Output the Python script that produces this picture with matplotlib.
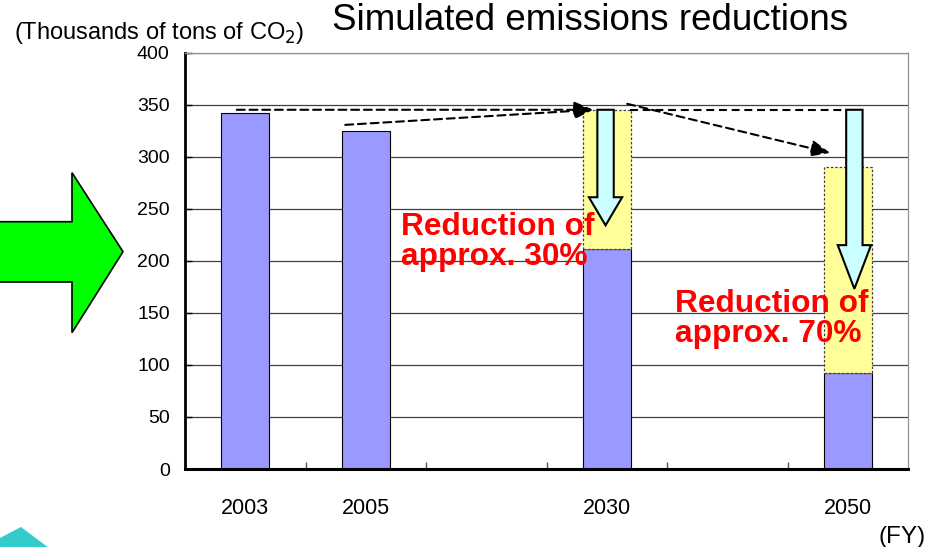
import numpy as np
import matplotlib
matplotlib.use("Agg")
import matplotlib.pyplot as plt
from matplotlib.patches import Polygon

plt.rcParams['font.family'] = ['Liberation Sans', 'DejaVu Sans']

# ---- data ----
categories = ['2003', '2005', '', '2030', '', '2050']
emissions = [342, 325, np.nan, 211, np.nan, 92]          # purple bars
before_reduction = [np.nan, np.nan, np.nan, 345, np.nan, 290]  # yellow bar tops
y_ticks = [0, 50, 100, 150, 200, 250, 300, 350, 400]
reference_level = 345
arrow_tips = {3: 234, 5: 173}          # cyan arrow tips (data units)
arrow_head_bases = {3: 261, 5: 215}
reduction_labels = {3: ('Reduction of', 'approx. 30%'),
                    5: ('Reduction of', 'approx. 70%')}

W, H = 940, 547
fig = plt.figure(figsize=(W / 100, H / 100), dpi=100)
ax = fig.add_axes([185 / W, 1 - 469 / H, (908 - 185) / W, (469 - 52.5) / H])

x = np.arange(len(categories))
em = np.array(emissions, dtype=float)
br = np.array(before_reduction, dtype=float)

ax.bar(x, em, width=0.4, color='#9999FF', edgecolor='black', linewidth=0.8, zorder=2)
ax.bar(x, br - em, bottom=em, width=0.4, color='#FFFF99', edgecolor='#404040',
       linewidth=0.9, linestyle=(0, (2, 1.5)), zorder=2)

ax.set_xlim(-0.5, len(categories) - 0.5)
ax.set_ylim(0, 400)
ax.set_yticks(y_ticks)
ax.set_xticks(x)
ax.set_xticklabels(categories, fontsize=15.5)
ax.set_xticks(np.arange(0.5, len(categories) - 0.5, 1.0), minor=True)
ax.tick_params(axis='x', which='major', length=0, pad=21)
ax.tick_params(axis='x', which='minor', direction='in', length=5, width=1, color='#555555')
ax.tick_params(axis='y', direction='in', length=5, width=1, labelsize=14, pad=11)

ax.set_axisbelow(True)
ax.yaxis.grid(True, color='#404040', linewidth=0.9)
for s in ['top', 'right']:
    ax.spines[s].set_color('#909090')
    ax.spines[s].set_linewidth(0.9)
ax.spines['left'].set_linewidth(2)
ax.spines['bottom'].set_linewidth(2.2)

# ---- dashed guide lines with arrowheads ----
dash = (0, (3.8, 2.3))
aprops = dict(arrowstyle='-|>,head_length=1.15,head_width=0.5', linestyle=dash,
              lw=1.5, color='black', shrinkA=0, shrinkB=0, mutation_scale=10)
tip30 = (2.886, reference_level)
ax.annotate('', xy=tip30, xytext=(-0.07, reference_level), arrowprops=aprops, zorder=4)
ax.annotate('', xy=tip30, xytext=(0.83, 330.5), arrowprops=aprops, zorder=4)
ax.plot([3.19, 4.99], [reference_level, reference_level], color='black', lw=1.5,
        linestyle=dash, zorder=4)
ax.annotate('', xy=(4.853, 303.6), xytext=(3.17, 350.7), arrowprops=aprops, zorder=4)

# ---- cyan downward arrows ----
arrow_cx = {3: 2.99, 5: 5.055}
for i, tip in arrow_tips.items():
    cx = arrow_cx[i]
    sh, hh = 0.068, 0.138
    base = arrow_head_bases[i]
    pts = [(cx - sh, reference_level), (cx + sh, reference_level), (cx + sh, base),
           (cx + hh, base), (cx, tip), (cx - hh, base), (cx - sh, base)]
    ax.add_patch(Polygon(pts, closed=True, facecolor='#CCFFFF', edgecolor='black',
                         linewidth=1.5, joinstyle='miter', zorder=5))

# ---- red labels ----
label_pos = {3: (1.29, 224.7, 195.9), 5: (3.57, 150.7, 121.8)}
for i, (l1, l2) in reduction_labels.items():
    lx, b1, b2 = label_pos[i]
    for txt, b in ((l1, b1), (l2, b2)):
        ax.text(lx, b, txt, color='#FF0000', fontsize=22.8, fontweight='bold',
                ha='left', va='baseline', zorder=6)

# ---- figure texts ----
fig.text(590 / W, 1 - 29.5 / H, 'Simulated emissions reductions', fontsize=26.5,
         ha='center', va='baseline')
fig.text(14 / W, 1 - 39 / H, '(Thousands of tons of CO$_2$)', fontsize=17,
         ha='left', va='baseline')
fig.text(926 / W, 4 / H, '(FY)', fontsize=17.5, ha='right', va='baseline')

# ---- decorative shapes ----
green = [(-5, 221.7), (72, 221.7), (72, 172.7), (123, 251.7), (72, 332.7), (72, 282), (-5, 282)]
fig.patches.append(Polygon([(px / W, 1 - py / H) for px, py in green], closed=True,
                           facecolor='#00FF00', edgecolor='black', linewidth=1.2,
                           transform=fig.transFigure, joinstyle='miter'))
teal = [(-2, 539), (21, 527), (49, 548), (-2, 548)]
fig.patches.append(Polygon([(px / W, 1 - py / H) for px, py in teal], closed=True,
                           facecolor='#33CCCC', edgecolor='none',
                           transform=fig.transFigure))

fig.savefig('out.png', dpi=100)
